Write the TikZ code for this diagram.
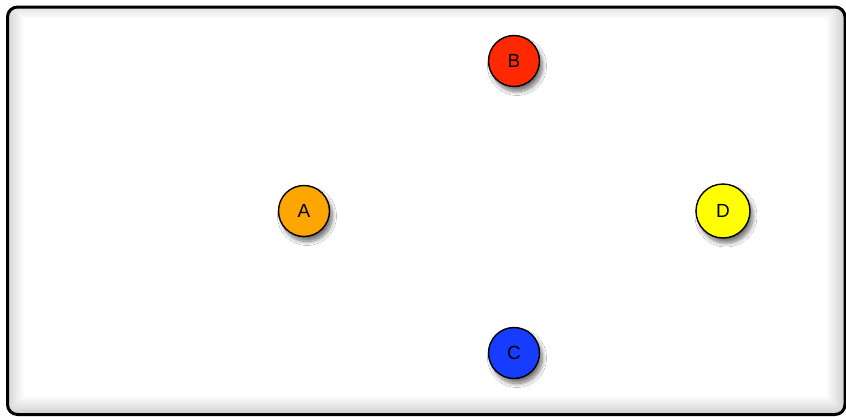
\documentclass[tikz,border=0pt]{standalone}
\usepackage{fontspec}
\setmainfont{Liberation Sans}
\usetikzlibrary{shadows.blur}
\definecolor{cA}{RGB}{255,165,0}
\definecolor{cB}{RGB}{255,40,0}
\definecolor{cC}{RGB}{22,60,255}
\definecolor{cD}{RGB}{255,255,0}
\tikzset{
  ball/.style={circle, draw=black, line width=1.4pt, minimum size=#1, inner sep=0pt,
    font=\fontsize{19}{21}\selectfont,
    blur shadow={shadow xshift=3pt, shadow yshift=-5pt, shadow blur steps=10, shadow opacity=55, shadow blur radius=4pt}},
  frame/.style={draw=black, line width=3pt, rounded corners=10pt}
}
\begin{document}
\begin{tikzpicture}[x=1pt,y=-1pt]
\useasboundingbox (0,0) rectangle (846,416);
\fill[white] (0,0) rectangle (846,416);
% inner shadow
\begin{scope}
  \clip[rounded corners=10pt] (7.5,7) rectangle (845,414.5);
  \foreach \w in {4,8,...,40} {
    \draw[black, opacity=0.02, line width=\w pt, rounded corners=10pt] (3.5,-2) rectangle (847,416.5);
  }
\end{scope}
\draw[frame] (7.5,7) rectangle (845,414.5);
\node[ball=51pt, fill=cA] (A) at (304,211) {A};
\node[ball=51pt, fill=cB] (B) at (514,61) {B};
\node[ball=51pt, fill=cC] (C) at (514,353) {C};
\node[ball=54pt, fill=cD] (D) at (723,211) {D};
\end{tikzpicture}
\end{document}
